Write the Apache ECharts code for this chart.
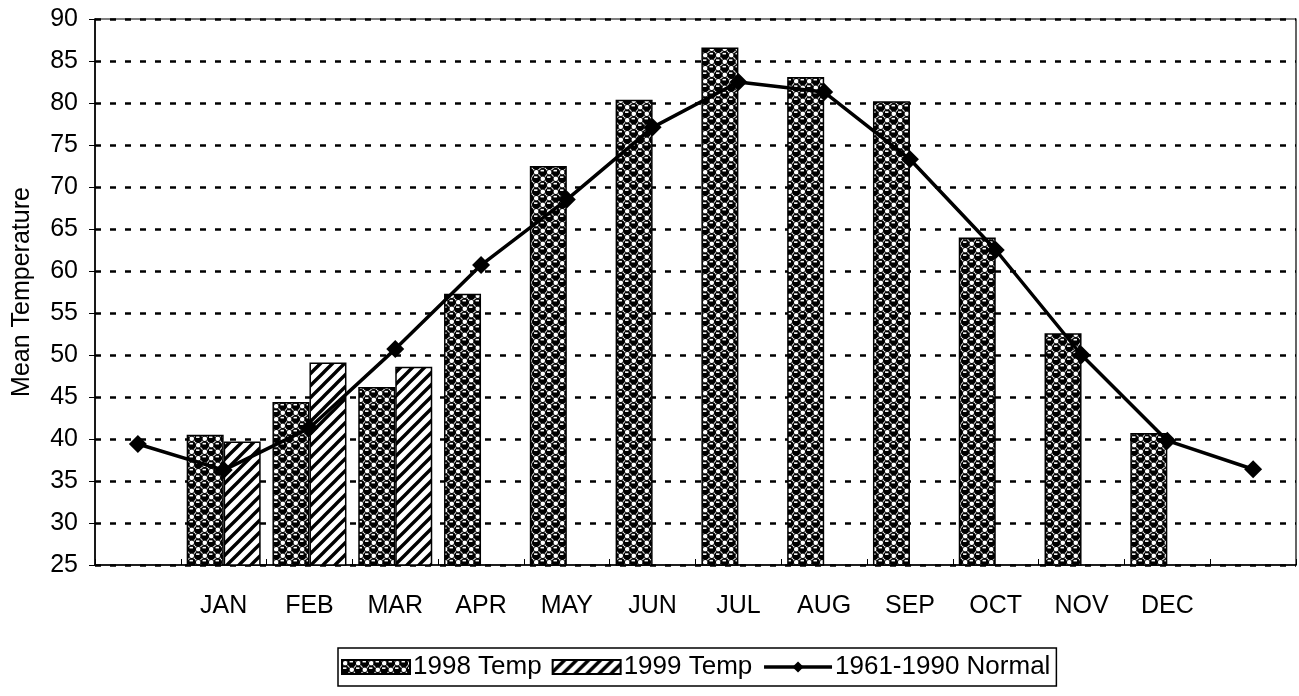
<!DOCTYPE html>
<html>
<head>
<meta charset="utf-8">
<script src="https://cdn.jsdelivr.net/npm/echarts@6/dist/echarts.min.js"></script>
<style>
html,body{margin:0;padding:0;background:#fff;}
#chart{width:1299px;height:696px;}
</style>
</head>
<body>
<div id="chart"></div>
<script>
var categories = ['', 'JAN', 'FEB', 'MAR', 'APR', 'MAY', 'JUN', 'JUL', 'AUG', 'SEP', 'OCT', 'NOV', 'DEC', ''];
var temp1998 = [null, 40.5, 44.4, 46.2, 57.3, 72.5, 80.4, 86.6, 83.1, 80.2, 64.0, 52.6, 40.7, null];
var temp1999 = [null, 39.7, 49.1, 48.6, null, null, null, null, null, null, null, null, null, null];
var normal = [39.4, 36.3, 41.3, 50.7, 60.7, 68.5, 77.1, 82.5, 81.3, 73.3, 62.5, 50.0, 39.8, 36.4];
var yTicks = { min: 25, max: 90, interval: 5 };

function dotPattern() {
  var c = document.createElement('canvas');
  var s = 13;
  c.width = s; c.height = s;
  var g = c.getContext('2d');
  g.fillStyle = '#fff'; g.fillRect(0, 0, s, s);
  g.fillStyle = '#000';
  var q = s / 4;
  var r = 4.2;
  var centers = [[3 * q, q], [q, 3 * q]];
  var all = [];
  centers.forEach(function (p) {
    for (var dx = -1; dx <= 1; dx++) for (var dy = -1; dy <= 1; dy++) all.push([p[0] + dx * s, p[1] + dy * s]);
  });
  all.forEach(function (p) {
    g.beginPath(); g.arc(p[0], p[1], r, 0, Math.PI * 2); g.fill();
  });
  g.fillStyle = '#fff';
  all.forEach(function (p) {
    g.fillRect(p[0] - 2.2, p[1] - 2.4, 3.4, 1.6);
  });
  g.strokeStyle = '#000'; g.lineWidth = 0.9;
  [[q, q], [3 * q, 3 * q]].forEach(function (p) {
    g.beginPath(); g.arc(p[0], p[1], 2.8, 0, Math.PI * 2); g.stroke();
  });
  return c;
}
function hatchPattern() {
  var c = document.createElement('canvas');
  var s = 12;
  c.width = s; c.height = s;
  var g = c.getContext('2d');
  g.fillStyle = '#fff'; g.fillRect(0, 0, s, s);
  g.strokeStyle = '#000'; g.lineWidth = 3.4;
  g.beginPath();
  g.moveTo(-2, s + 2); g.lineTo(s + 2, -2);
  g.moveTo(-2, 2); g.lineTo(2, -2);
  g.moveTo(s - 2, s + 2); g.lineTo(s + 2, s - 2);
  g.stroke();
  return c;
}
var pat1998 = { image: dotPattern(), repeat: 'repeat' };
var pat1999 = { image: hatchPattern(), repeat: 'repeat' };

var chart = echarts.init(document.getElementById('chart'));
var font = 'Liberation Sans, Arial, sans-serif';
chart.setOption({
  animation: false,
  backgroundColor: '#fff',
  textStyle: { fontFamily: font },
  grid: { left: 95, right: 3, top: 19, bottom: 131, show: true, borderColor: '#000', borderWidth: 1.2, backgroundColor: 'transparent' },
  legend: {
    left: 338, top: 648,
    padding: [6, 6, 6, 3],
    itemGap: 10,
    itemWidth: 68, itemHeight: 14,
    borderColor: '#000', borderWidth: 1.5,
    lineStyle: { width: 3.5, color: '#000' },
    textStyle: { fontFamily: font, fontSize: 26, color: '#000', padding: [0, 0, 0, -2] },
    data: [
      { name: '1998 Temp', icon: 'rect' },
      { name: '1999 Temp', icon: 'rect' },
      { name: '1961-1990 Normal' }
    ]
  },
  xAxis: {
    type: 'category',
    data: categories,
    boundaryGap: true,
    axisLine: { lineStyle: { color: '#000', width: 1.5 } },
    axisTick: { show: true, inside: true, length: 6, interval: 0, lineStyle: { color: '#000' } },
    axisLabel: { interval: 0, color: '#000', fontSize: 25, margin: 29, fontFamily: font },
    splitLine: { show: false }
  },
  yAxis: {
    type: 'value',
    min: yTicks.min, max: yTicks.max, interval: yTicks.interval,
    name: 'Mean Temperature',
    nameLocation: 'middle',
    nameGap: 60,
    nameTextStyle: { fontSize: 25, color: '#000', fontFamily: font },
    axisLine: { show: true, lineStyle: { color: '#000', width: 1.5 } },
    axisTick: { show: true, inside: false, length: 6, lineStyle: { color: '#000' } },
    axisLabel: { color: '#000', fontSize: 25, margin: 17, fontFamily: font },
    splitLine: { show: true, lineStyle: { color: '#000', width: 2.5, type: [6, 9] } }
  },
  series: [
    {
      name: '1998 Temp', type: 'bar', data: temp1998,
      barWidth: 37, barGap: '0%',
      itemStyle: { color: pat1998, borderColor: '#000', borderWidth: 1.5 }
    },
    {
      name: '1999 Temp', type: 'bar', data: temp1999,
      barWidth: 37, barGap: '0%',
      itemStyle: { color: pat1999, borderColor: '#000', borderWidth: 1.5 }
    },
    {
      name: '1961-1990 Normal', type: 'line', data: normal,
      symbol: 'diamond', symbolSize: 18,
      lineStyle: { color: '#000', width: 3.5 },
      itemStyle: { color: '#000' },
      z: 5
    }
  ]
});
</script>
</body>
</html>
